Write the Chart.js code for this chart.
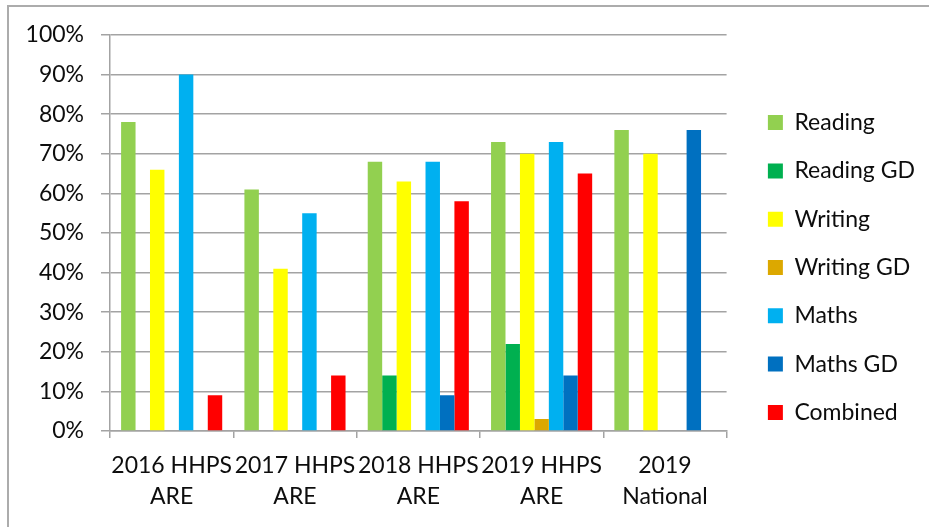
<!DOCTYPE html>
<html>
<head>
<meta charset="utf-8">
<script src="https://cdn.jsdelivr.net/npm/chart.js@4.4.1/dist/chart.umd.min.js"></script>
<style>
  html, body { margin: 0; padding: 0; background: #fff; overflow: hidden; }
  #frame { position: absolute; left: 7px; top: 5px; width: 1000px; height: 600px;
           border-top: 2px solid #acacac; border-left: 2px solid #acacac; }
  #chart { position: absolute; left: 0; top: 0; }
</style>
</head>
<body>
<div id="frame"></div>
<canvas id="chart" width="929" height="527"></canvas>
<script>
  // categories and series (percent)
  const categories = [
    ["2016 HHPS", "ARE"],
    ["2017 HHPS", "ARE"],
    ["2018 HHPS", "ARE"],
    ["2019 HHPS", "ARE"],
    ["2019", "National"]
  ];
  const reading   = [78, 61, 68, 73, 76];
  const readingGD = [null, null, 14, 22, null];
  const writing   = [66, 41, 63, 70, 70];
  const writingGD = [null, null, null, 3, null];
  const maths     = [90, 55, 68, 73, null];
  const mathsGD   = [null, null, 9, 14, 76];
  const combined  = [9, 14, 58, 65, null];

  const FONT = "Lato";
  const GRID = "#a3a3a3";

  // empty box between the plot and the legend
  const legendGap = {
    id: "legendGap",
    beforeInit: function (chart) {
      Chart.layouts.addBox(chart, {
        position: "right",
        weight: 500,
        fullSize: false,
        options: {},
        left: 0, top: 0, right: 0, bottom: 0, width: 0, height: 0,
        isHorizontal: function () { return false; },
        update: function (maxWidth, maxHeight) { this.width = 16; this.height = maxHeight; },
        draw: function () {}
      });
    }
  };

  function series(label, data, color) {
    return { label: label, data: data, backgroundColor: color, borderWidth: 0 };
  }

  var ctx = document.getElementById("chart").getContext("2d");
  var myChart = new Chart(ctx, {
    type: "bar",
    data: {
      labels: categories,
      datasets: [
        series("Reading", reading, "#92d050"),
        series("Reading GD", readingGD, "#00b050"),
        series("Writing", writing, "#ffff00"),
        series("Writing GD", writingGD, "#dca800"),
        series("Maths", maths, "#00b0f0"),
        series("Maths GD", mathsGD, "#0070c0"),
        series("Combined", combined, "#ff0000")
      ]
    },
    plugins: [legendGap],
    options: {
      responsive: false,
      animation: false,
      categoryPercentage: 0.82,
      barPercentage: 1,
      layout: { padding: { top: 8, right: 4, bottom: 0, left: 0 } },
      plugins: {
        legend: {
          position: "right",
          maxWidth: 400,
          labels: {
            boxWidth: 15,
            boxHeight: 15,
            padding: 25.3,
            color: "#0d0d0d",
            font: { family: FONT, size: 23 }
          }
        },
        tooltip: { enabled: false }
      },
      scales: {
        x: {
          afterFit: function (scale) { scale.height = 96; },
          grid: { display: true, drawOnChartArea: false, drawTicks: true, tickLength: 7, offset: true, color: GRID, lineWidth: 1.5 },
          border: { display: true, color: GRID, width: 1.5 },
          ticks: { autoSkip: false, color: "#0d0d0d", padding: 12, maxRotation: 0, font: { family: FONT, size: 23, lineHeight: 1.35 } }
        },
        y: {
          min: 0,
          max: 100,
          afterFit: function (scale) { scale.width = 110; scale.paddingTop = 35; },
          grid: { color: GRID, lineWidth: 1.5, tickLength: 9 },
          border: { display: true, color: GRID, width: 1.5 },
          ticks: {
            stepSize: 10,
            padding: 17,
            color: "#0d0d0d",
            font: { family: FONT, size: 23 },
            callback: function (v) { return v + "%"; }
          }
        }
      }
    }
  });
</script>
</body>
</html>
